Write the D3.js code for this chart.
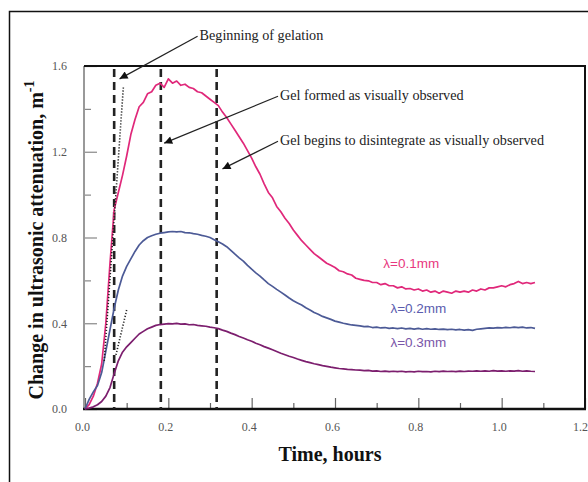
<!DOCTYPE html>
<html><head><meta charset="utf-8">
<script src="https://cdn.jsdelivr.net/npm/d3@7"></script>
<style>body{margin:0;background:#fff;}svg{display:block;}</style>
</head><body>
<svg id="c" width="588" height="482"></svg>
<script>
const timeHours = [0,0.01,0.02,0.03,0.04,0.05,0.06,0.07,0.08,0.09,0.10,0.11,0.12,0.13,0.14,0.15,0.16,0.17,0.18,0.19,
0.20,0.21,0.22,0.23,0.24,0.25,0.26,0.27,0.28,0.29,0.30,0.31,0.32,0.33,0.34,0.35,0.36,0.37,0.38,0.39,
0.40,0.41,0.42,0.43,0.44,0.45,0.46,0.47,0.48,0.49,0.50,0.51,0.52,0.53,0.54,0.55,0.56,0.57,0.58,0.59,
0.60,0.61,0.62,0.63,0.64,0.65,0.66,0.67,0.68,0.69,0.70,0.71,0.72,0.73,0.74,0.75,0.76,0.77,0.78,0.79,
0.80,0.81,0.82,0.83,0.84,0.85,0.86,0.87,0.88,0.89,0.90,0.91,0.92,0.93,0.94,0.95,0.96,0.97,0.98,0.99,
1.00,1.01,1.02,1.03,1.04,1.05,1.06,1.07,1.08];

const lambda01 = [0,0.02,0.06,0.12,0.21,0.40,0.68,0.93,1.01,1.09,1.18,1.28,1.35,1.41,1.43,1.47,1.48,1.51,1.52,1.50,
1.54,1.52,1.53,1.51,1.515,1.50,1.495,1.48,1.475,1.46,1.445,1.43,1.415,1.385,1.36,1.33,1.30,1.27,1.24,1.205,
1.17,1.13,1.095,1.05,1.01,0.985,0.945,0.92,0.89,0.865,0.835,0.81,0.785,0.765,0.745,0.725,0.71,0.695,0.68,0.67,
0.66,0.645,0.64,0.63,0.625,0.61,0.605,0.60,0.598,0.59,0.59,0.58,0.585,0.575,0.575,0.565,0.57,0.56,0.562,0.555,
0.56,0.55,0.555,0.545,0.55,0.54,0.55,0.545,0.54,0.55,0.545,0.55,0.545,0.555,0.55,0.56,0.555,0.565,0.565,0.57,
0.575,0.57,0.58,0.585,0.595,0.585,0.59,0.585,0.59];

const lambda02 = [0,0.045,0.08,0.11,0.17,0.27,0.37,0.47,0.555,0.62,0.665,0.70,0.735,0.765,0.785,0.80,0.808,0.815,0.82,0.823,
0.826,0.828,0.826,0.828,0.823,0.822,0.818,0.815,0.81,0.806,0.80,0.79,0.78,0.77,0.757,0.74,0.722,0.705,0.69,0.67,
0.652,0.635,0.62,0.602,0.585,0.572,0.558,0.545,0.532,0.518,0.505,0.495,0.485,0.472,0.462,0.45,0.442,0.432,0.425,0.418,
0.41,0.405,0.40,0.396,0.392,0.39,0.388,0.384,0.385,0.38,0.382,0.378,0.38,0.376,0.378,0.375,0.378,0.374,0.376,0.373,
0.376,0.372,0.375,0.372,0.374,0.371,0.373,0.37,0.372,0.369,0.371,0.368,0.37,0.367,0.372,0.374,0.376,0.378,0.377,0.38,
0.378,0.381,0.379,0.382,0.38,0.382,0.378,0.38,0.376];

const lambda03 = [0,0.004,0.01,0.02,0.035,0.06,0.10,0.165,0.225,0.265,0.29,0.31,0.33,0.35,0.362,0.374,0.382,0.39,0.394,0.396,
0.398,0.397,0.399,0.396,0.397,0.393,0.394,0.39,0.388,0.386,0.382,0.379,0.375,0.368,0.362,0.354,0.347,0.338,0.331,0.323,
0.316,0.307,0.30,0.291,0.284,0.276,0.268,0.26,0.253,0.246,0.24,0.233,0.227,0.221,0.216,0.211,0.207,0.202,0.199,0.195,
0.192,0.189,0.187,0.185,0.184,0.182,0.181,0.179,0.18,0.177,0.178,0.175,0.177,0.174,0.176,0.174,0.176,0.173,0.175,0.173,
0.176,0.174,0.175,0.173,0.176,0.174,0.177,0.175,0.176,0.174,0.177,0.175,0.177,0.176,0.178,0.176,0.178,0.176,0.179,0.177,
0.178,0.176,0.178,0.177,0.179,0.176,0.178,0.176,0.175];

const seriesNames = ["λ=0.1mm","λ=0.2mm","λ=0.3mm"];
const seriesLabelPos = [[0.716,0.66],[0.733,0.45],[0.733,0.29]];
const xTicks = [0,0.2,0.4,0.6,0.8,1.0,1.2];
const xMinor = [0.1,0.3,0.5,0.7,0.9,1.1];
const yTicks = [0,0.4,0.8,1.2,1.6];
const yMinor = [0.2,0.6,1.0,1.4];
const eventTimes = [0.07,0.182,0.316];
const annotations = [
  {text:"Beginning of gelation", at:[0.275,1.72], tip:[0.083,1.54]},
  {text:"Gel formed as visually observed", at:[0.468,1.44], tip:[0.19,1.24]},
  {text:"Gel begins to disintegrate as visually observed", at:[0.468,1.23], tip:[0.33,1.12]}
];
const tangentLines = [[[0.092,1.50],[0.046,0.22]],[[0.10,0.462],[0.074,0.25]]];

const lineColors = ["#e0287a","#4c5a96","#7c1e6e"];
const labelColors = ["#e8387e","#5a5cae","#7a56a8"];

const svg = d3.select("#c");
const L = 85, R = 585, T = 66, B = 409;
const x = d3.scaleLinear().domain([0,1.2]).range([L,R]);
const y = d3.scaleLinear().domain([0,1.6]).range([B,T]);

// outer frame
svg.append("path").attr("d",`M9.5,482 V11.5 H588`).attr("fill","none").attr("stroke","#111").attr("stroke-width",1.5);

const serif = "'Liberation Serif','Times New Roman',serif";
const sans = "'Liberation Sans',Arial,sans-serif";

// axes
const gx = svg.append("g").attr("transform",`translate(0,${B})`)
  .call(d3.axisBottom(x).tickValues(xTicks).tickSize(-11).tickPadding(13).tickFormat(d3.format(".1f")));
gx.select(".domain").remove();
gx.selectAll(".tick line").attr("stroke","#666").attr("stroke-width",1.2);
gx.selectAll(".tick text").attr("font-family",serif).attr("font-size",12).attr("fill","#555")
  .attr("dx",d=>d===1.2?-5:-3);
const gxm = svg.append("g").attr("transform",`translate(0,${B})`)
  .call(d3.axisBottom(x).tickValues(xMinor).tickSize(-6).tickFormat(""));
gxm.select(".domain").remove();
gxm.selectAll(".tick line").attr("stroke","#666").attr("stroke-width",1.2);

const gy = svg.append("g").attr("transform",`translate(${L},0)`)
  .call(d3.axisLeft(y).tickValues(yTicks).tickSize(-12).tickPadding(18).tickFormat(d3.format(".1f")));
gy.select(".domain").remove();
gy.selectAll(".tick line").attr("stroke","#888").attr("stroke-width",1.2);
gy.selectAll(".tick text").attr("font-family",serif).attr("font-size",12).attr("fill","#555");
const gym = svg.append("g").attr("transform",`translate(${L},0)`)
  .call(d3.axisLeft(y).tickValues(yMinor).tickSize(-6).tickFormat(""));
gym.select(".domain").remove();
gym.selectAll(".tick line").attr("stroke","#888").attr("stroke-width",1.2);

// frame of plot
svg.append("line").attr("x1",L-1).attr("x2",L-1).attr("y1",T).attr("y2",B).attr("stroke","#999").attr("stroke-width",2);
svg.append("line").attr("x1",L-1).attr("x2",R+1).attr("y1",T).attr("y2",T).attr("stroke","#111").attr("stroke-width",2);
svg.append("line").attr("x1",R).attr("x2",R).attr("y1",T).attr("y2",B).attr("stroke","#111").attr("stroke-width",2);
svg.append("line").attr("x1",L-2).attr("x2",R+1).attr("y1",B).attr("y2",B).attr("stroke","#111").attr("stroke-width",2.5);

// event dashed lines
svg.selectAll("line.ev").data(eventTimes).join("line").attr("class","ev")
  .attr("x1",d=>x(d)).attr("x2",d=>x(d)).attr("y1",T+3).attr("y2",B)
  .attr("stroke","#222").attr("stroke-width",2.6).attr("stroke-dasharray","8,5");

// curves
const seriesVals = [lambda01,lambda02,lambda03];
const line = d3.line().x((d,i)=>x(timeHours[i])).y(d=>y(d));
seriesVals.forEach((vals,k)=>{
  svg.append("path").attr("d",line(vals)).attr("fill","none")
    .attr("stroke",lineColors[k]).attr("stroke-width",1.7).attr("stroke-linejoin","round");
});

// tangent dotted lines
tangentLines.forEach(seg=>{
  svg.append("line").attr("x1",x(seg[0][0])).attr("y1",y(seg[0][1])).attr("x2",x(seg[1][0])).attr("y2",y(seg[1][1]))
    .attr("stroke","#222").attr("stroke-width",1.6).attr("stroke-dasharray","1.2,1.8");
});

// series labels
seriesNames.forEach((n,k)=>{
  svg.append("text").attr("x",x(seriesLabelPos[k][0])).attr("y",y(seriesLabelPos[k][1]))
    .attr("font-family",sans).attr("font-size",13.5).attr("fill",labelColors[k]).text(n);
});

// arrows
const defs = svg.append("defs");
defs.append("marker").attr("id","ah").attr("viewBox","0 0 10 10").attr("refX",10).attr("refY",5)
  .attr("markerWidth",11).attr("markerHeight",8).attr("markerUnits","userSpaceOnUse").attr("orient","auto")
  .append("path").attr("d","M0,0 L10,5 L0,10 Z").attr("fill","#111");
annotations.forEach(a=>{
  svg.append("line").attr("x1",x(a.at[0])-2).attr("y1",y(a.at[1])-4).attr("x2",x(a.tip[0])).attr("y2",y(a.tip[1]))
    .attr("stroke","#222").attr("stroke-width",1.2).attr("marker-end","url(#ah)");
  svg.append("text").attr("x",x(a.at[0])).attr("y",y(a.at[1]))
    .attr("font-family",serif).attr("font-size",14.2).attr("fill","#222").text(a.text);
});

// axis titles
svg.append("text").attr("x",330).attr("y",461).attr("text-anchor","middle")
  .attr("font-family",serif).attr("font-weight","bold").attr("font-size",20).attr("fill","#111").text("Time, hours");
const yt = svg.append("text").attr("transform","translate(43,240) rotate(-90)").attr("text-anchor","middle")
  .attr("font-family",serif).attr("font-weight","bold").attr("font-size",20).attr("fill","#111");
yt.append("tspan").text("Change in ultrasonic attenuation, m");
yt.append("tspan").attr("dy",-9).attr("font-size",14).text("-1");
</script>
</body></html>
